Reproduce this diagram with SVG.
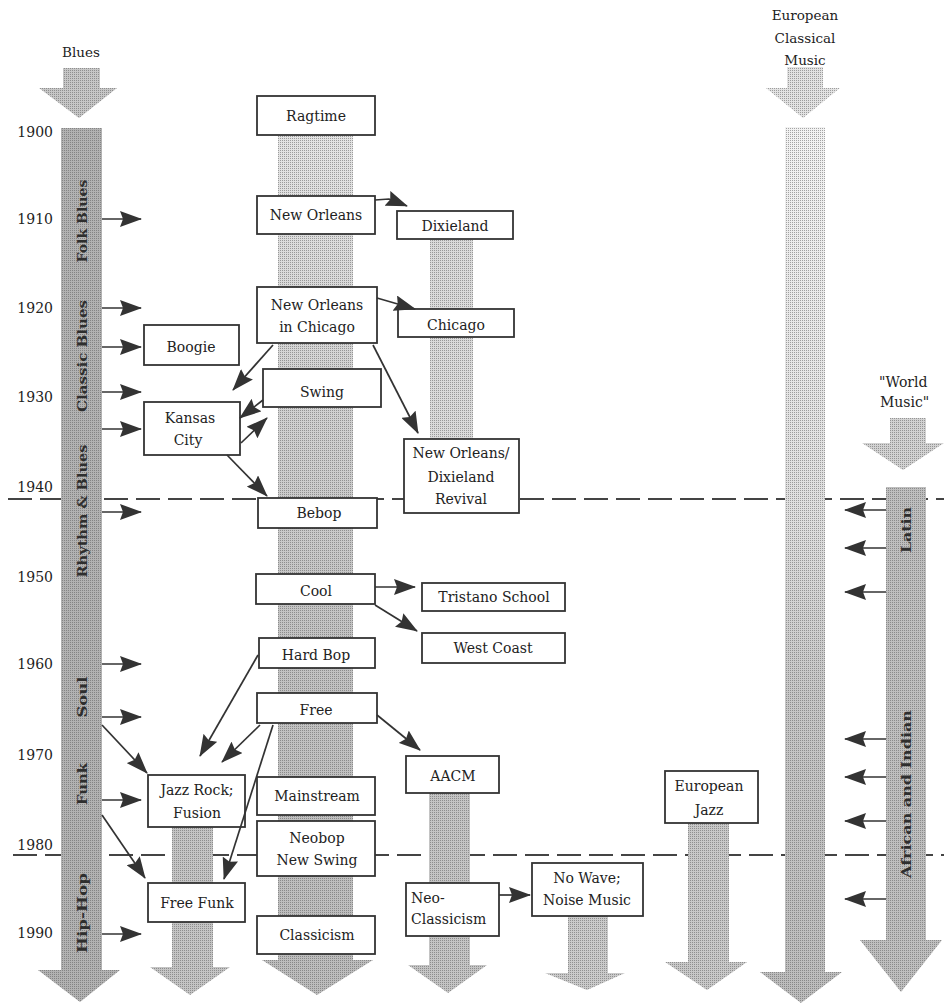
<svg xmlns="http://www.w3.org/2000/svg" width="944" height="1004" viewBox="0 0 944 1004">
  <defs>
    <style>
      .box { fill: #ffffff; stroke: #333333; stroke-width: 1.8; }
      .t { font-family: "DejaVu Serif", "Liberation Serif", serif; font-size: 14px; fill: #222222; text-anchor: middle; }
      .tl { font-family: "DejaVu Serif", "Liberation Serif", serif; font-size: 14px; fill: #222222; }
      .yr { font-family: "DejaVu Serif", "Liberation Serif", serif; font-size: 14px; fill: #222222; text-anchor: end; }
      .band { font-family: "DejaVu Serif", "Liberation Serif", serif; font-size: 13px; font-weight: bold; fill: #2e2e2e; text-anchor: middle; }
      .hdr { font-family: "DejaVu Serif", "Liberation Serif", serif; font-size: 13.5px; fill: #222222; text-anchor: middle; }
      .conn { fill: none; stroke: #333333; stroke-width: 1.7; marker-end: url(#ah); }
      .dash { stroke: #444444; stroke-width: 2; stroke-dasharray: 24 8; }
      .dots { fill: url(#dots); opacity: 0.5; }
    </style>
    <marker id="ah" viewBox="0 0 22 16" refX="21" refY="8" markerWidth="22" markerHeight="16" markerUnits="userSpaceOnUse" orient="auto">
      <path d="M0,0 L22,8 L0,16 L3,8 Z" fill="#333333"/>
    </marker>
    <pattern id="dots" width="2" height="2" patternUnits="userSpaceOnUse">
      <rect x="0" y="0" width="1" height="1" fill="#555555"/>
    </pattern>
    <linearGradient id="gMain" gradientUnits="userSpaceOnUse" x1="0" y1="130" x2="0" y2="990">
      <stop offset="0" stop-color="#e4e4e4"/>
      <stop offset="0.35" stop-color="#cfcfcf"/>
      <stop offset="0.6" stop-color="#c2c2c2"/>
      <stop offset="1" stop-color="#bcbcbc"/>
    </linearGradient>
    <linearGradient id="gEuro" gradientUnits="userSpaceOnUse" x1="0" y1="127" x2="0" y2="1000">
      <stop offset="0" stop-color="#f2f2f2"/>
      <stop offset="0.45" stop-color="#dedede"/>
      <stop offset="0.65" stop-color="#c6c6c6"/>
      <stop offset="1" stop-color="#bcbcbc"/>
    </linearGradient>
  </defs>

  <rect x="0" y="0" width="944" height="1004" fill="#ffffff"/>

  <!-- decade guide lines -->
  <g id="guides">
    <line class="dash" x1="8" y1="499" x2="944" y2="499"/>
    <line class="dash" x1="13" y1="855" x2="944" y2="855"/>
  </g>

  <!-- stippled stream columns -->
  <g id="columns">
    <g id="col-blues">
      <path d="M63,68 H100 V88 H117 L79,118 L39,88 H63 Z" fill="#c6c6c6"/>
      <path class="dots" d="M63,68 H100 V88 H117 L79,118 L39,88 H63 Z"/>
      <path d="M61,128 H102 V970 H120 L80,1002 L38,970 H61 Z" fill="#b2b2b2"/>
      <path class="dots" d="M61,128 H102 V970 H120 L80,1002 L38,970 H61 Z"/>
    </g>
    <g id="col-main">
      <path d="M278,130 H353 V960 H373 L317,995 L262,960 H278 Z" fill="url(#gMain)"/>
      <path class="dots" d="M278,130 H353 V960 H373 L317,995 L262,960 H278 Z" opacity="0.35"/>
    </g>
    <g id="col-dixie">
      <path d="M430,239 H473 V440 H430 Z" fill="#dadada"/>
      <path class="dots" d="M430,239 H473 V440 H430 Z" opacity="0.3"/>
    </g>
    <g id="col-aacm">
      <path d="M429,793 H470 V965 H487 L448,993 L408,965 H429 Z" fill="#c4c4c4"/>
      <path class="dots" d="M429,793 H470 V965 H487 L448,993 L408,965 H429 Z"/>
    </g>
    <g id="col-nowave">
      <path d="M568,916 H608 V973 H625 L587,990 L545,973 H568 Z" fill="#cacaca"/>
      <path class="dots" d="M568,916 H608 V973 H625 L587,990 L545,973 H568 Z"/>
    </g>
    <g id="col-fusion">
      <path d="M172,827 H213 V967 H230 L190,995 L150,967 H172 Z" fill="#c4c4c4"/>
      <path class="dots" d="M172,827 H213 V967 H230 L190,995 L150,967 H172 Z"/>
    </g>
    <g id="col-eurojazz">
      <path d="M688,823 H729 V962 H747 L707,990 L665,962 H688 Z" fill="#c8c8c8"/>
      <path class="dots" d="M688,823 H729 V962 H747 L707,990 L665,962 H688 Z"/>
    </g>
    <g id="col-classical">
      <path d="M787,67 H823 V88 H840 L803,118 L766,88 H787 Z" fill="#e2e2e2"/>
      <path class="dots" d="M787,67 H823 V88 H840 L803,118 L766,88 H787 Z" opacity="0.3"/>
      <path d="M785,127 H825 V972 H842 L801,1003 L760,972 H785 Z" fill="url(#gEuro)"/>
      <path class="dots" d="M785,127 H825 V972 H842 L801,1003 L760,972 H785 Z" opacity="0.35"/>
    </g>
    <g id="col-world">
      <path d="M890,418 H926 V443 H944 L903,470 L862,443 H890 Z" fill="#d2d2d2"/>
      <path class="dots" d="M890,418 H926 V443 H944 L903,470 L862,443 H890 Z"/>
      <path d="M886,487 H926 V940 H942 L901,992 L860,940 H886 Z" fill="#bebebe"/>
      <path class="dots" d="M886,487 H926 V940 H942 L901,992 L860,940 H886 Z"/>
    </g>
  </g>

  <!-- stream headings -->
  <g id="headings">
    <text class="hdr" x="81" y="57">Blues</text>
    <text class="hdr" x="805" y="20">European</text>
    <text class="hdr" x="805" y="43">Classical</text>
    <text class="hdr" x="805" y="65">Music</text>
    <text class="tl" x="879" y="387">"World</text>
    <text class="tl" x="880" y="407">Music"</text>
  </g>

  <!-- year axis -->
  <g id="years">
    <text class="yr" x="53" y="137">1900</text>
    <text class="yr" x="53" y="224">1910</text>
    <text class="yr" x="53" y="313">1920</text>
    <text class="yr" x="53" y="402">1930</text>
    <text class="yr" x="53" y="492">1940</text>
    <text class="yr" x="53" y="582">1950</text>
    <text class="yr" x="53" y="669">1960</text>
    <text class="yr" x="53" y="760">1970</text>
    <text class="yr" x="53" y="850">1980</text>
    <text class="yr" x="53" y="938">1990</text>
  </g>

  <!-- labels running along the columns -->
  <g id="column-labels">
    <text class="band" transform="translate(87,221) rotate(-90)" textLength="83" lengthAdjust="spacingAndGlyphs">Folk Blues</text>
    <text class="band" transform="translate(87,356) rotate(-90)" textLength="112" lengthAdjust="spacingAndGlyphs">Classic Blues</text>
    <text class="band" transform="translate(87,511) rotate(-90)" textLength="133" lengthAdjust="spacingAndGlyphs">Rhythm &amp; Blues</text>
    <text class="band" transform="translate(87,697) rotate(-90)" textLength="41" lengthAdjust="spacingAndGlyphs">Soul</text>
    <text class="band" transform="translate(87,784) rotate(-90)" textLength="42" lengthAdjust="spacingAndGlyphs">Funk</text>
    <text class="band" transform="translate(87,913) rotate(-90)" textLength="80" lengthAdjust="spacingAndGlyphs">Hip-Hop</text>
    <text class="band" transform="translate(911,530) rotate(-90)" textLength="46" lengthAdjust="spacingAndGlyphs">Latin</text>
    <text class="band" transform="translate(911,794) rotate(-90)" textLength="168" lengthAdjust="spacingAndGlyphs">African and Indian</text>
  </g>

  <!-- style nodes -->
  <g id="n-ragtime"><rect class="box" x="257" y="96" width="118" height="39"/><text class="t" x="316" y="121">Ragtime</text></g>
  <g id="n-neworleans"><rect class="box" x="257" y="196" width="118" height="38"/><text class="t" x="316" y="220">New Orleans</text></g>
  <g id="n-dixieland"><rect class="box" x="397" y="211" width="116" height="28"/><text class="t" x="455" y="231">Dixieland</text></g>
  <g id="n-nochicago"><rect class="box" x="257" y="287" width="120" height="56"/><text class="t" x="317" y="310">New Orleans</text><text class="t" x="317" y="332">in Chicago</text></g>
  <g id="n-chicago"><rect class="box" x="398" y="309" width="116" height="28"/><text class="t" x="456" y="330">Chicago</text></g>
  <g id="n-boogie"><rect class="box" x="144" y="325" width="95" height="40"/><text class="t" x="191" y="352">Boogie</text></g>
  <g id="n-swing"><rect class="box" x="263" y="369" width="118" height="38"/><text class="t" x="322" y="397">Swing</text></g>
  <g id="n-kansas"><rect class="box" x="144" y="402" width="96" height="53"/><text class="t" x="190" y="423">Kansas</text><text class="t" x="188" y="445">City</text></g>
  <g id="n-revival"><rect class="box" x="404" y="439" width="115" height="74"/><text class="t" x="461" y="458">New Orleans/</text><text class="t" x="461" y="482">Dixieland</text><text class="t" x="461" y="504">Revival</text></g>
  <g id="n-bebop"><rect class="box" x="258" y="498" width="119" height="30"/><text class="t" x="319" y="518">Bebop</text></g>
  <g id="n-cool"><rect class="box" x="256" y="574" width="119" height="30"/><text class="t" x="316" y="596">Cool</text></g>
  <g id="n-tristano"><rect class="box" x="422" y="583" width="143" height="28"/><text class="t" x="494" y="602">Tristano School</text></g>
  <g id="n-westcoast"><rect class="box" x="422" y="633" width="143" height="30"/><text class="t" x="493" y="653">West Coast</text></g>
  <g id="n-hardbop"><rect class="box" x="259" y="638" width="116" height="30"/><text class="t" x="316" y="660">Hard Bop</text></g>
  <g id="n-free"><rect class="box" x="257" y="693" width="120" height="30"/><text class="t" x="316" y="715">Free</text></g>
  <g id="n-aacm"><rect class="box" x="406" y="756" width="93" height="37"/><text class="t" x="453" y="781">AACM</text></g>
  <g id="n-fusion"><rect class="box" x="148" y="775" width="97" height="52"/><text class="t" x="197" y="795">Jazz Rock;</text><text class="t" x="197" y="818">Fusion</text></g>
  <g id="n-mainstream"><rect class="box" x="257" y="777" width="118" height="38"/><text class="t" x="317" y="801">Mainstream</text></g>
  <g id="n-eurojazz"><rect class="box" x="665" y="771" width="93" height="52"/><text class="t" x="709" y="791">European</text><text class="t" x="709" y="815">Jazz</text></g>
  <g id="n-neobop"><rect class="box" x="257" y="821" width="118" height="55"/><text class="t" x="317" y="843">Neobop</text><text class="t" x="317" y="865">New Swing</text></g>
  <g id="n-nowave"><rect class="box" x="532" y="863" width="111" height="53"/><text class="t" x="587" y="883">No Wave;</text><text class="t" x="587" y="905">Noise Music</text></g>
  <g id="n-neoclassicism"><rect class="box" x="406" y="883" width="93" height="53"/><text class="tl" x="411" y="903">Neo-</text><text class="tl" x="411" y="924">Classicism</text></g>
  <g id="n-freefunk"><rect class="box" x="148" y="883" width="97" height="39"/><text class="t" x="197" y="908">Free Funk</text></g>
  <g id="n-classicism"><rect class="box" x="257" y="916" width="118" height="38"/><text class="t" x="317" y="940">Classicism</text></g>

  <!-- influences and successions -->
  <g id="connectors">
    <!-- from the blues stream -->
    <line class="conn" x1="102" y1="219" x2="141" y2="219"/>
    <line class="conn" x1="102" y1="308" x2="141" y2="308"/>
    <line class="conn" x1="102" y1="347" x2="141" y2="347"/>
    <line class="conn" x1="102" y1="392" x2="141" y2="392"/>
    <line class="conn" x1="102" y1="429" x2="141" y2="429"/>
    <line class="conn" x1="102" y1="512" x2="141" y2="512"/>
    <line class="conn" x1="102" y1="664" x2="141" y2="664"/>
    <line class="conn" x1="102" y1="717" x2="141" y2="717"/>
    <line class="conn" x1="102" y1="800" x2="141" y2="800"/>
    <line class="conn" x1="102" y1="934" x2="141" y2="934"/>
    <line class="conn" x1="102" y1="725" x2="147" y2="773"/>
    <line class="conn" x1="102" y1="815" x2="145" y2="878"/>
    <!-- from the world music stream -->
    <line class="conn" x1="886" y1="510" x2="845" y2="510"/>
    <line class="conn" x1="886" y1="548" x2="845" y2="548"/>
    <line class="conn" x1="886" y1="592" x2="845" y2="592"/>
    <line class="conn" x1="886" y1="739" x2="845" y2="739"/>
    <line class="conn" x1="886" y1="777" x2="845" y2="777"/>
    <line class="conn" x1="886" y1="821" x2="845" y2="821"/>
    <line class="conn" x1="886" y1="899" x2="845" y2="899"/>
    <!-- between styles -->
    <path class="conn" d="M375,200 L389,199 L407,206"/>
    <path class="conn" d="M377,298 L415,309"/>
    <path class="conn" d="M273,345 L233,390"/>
    <path class="conn" d="M373,345 L418,433"/>
    <path class="conn" d="M263,400 L240,418"/>
    <path class="conn" d="M241,443 L267,418"/>
    <path class="conn" d="M227,455 L267,496"/>
    <path class="conn" d="M375,587 L415,587"/>
    <path class="conn" d="M375,605 L417,631"/>
    <path class="conn" d="M258,655 L200,756"/>
    <path class="conn" d="M260,725 L222,762"/>
    <path class="conn" d="M273,725 L224,879"/>
    <path class="conn" d="M377,715 L420,750"/>
    <path class="conn" d="M499,895 L530,895"/>
  </g>
</svg>
